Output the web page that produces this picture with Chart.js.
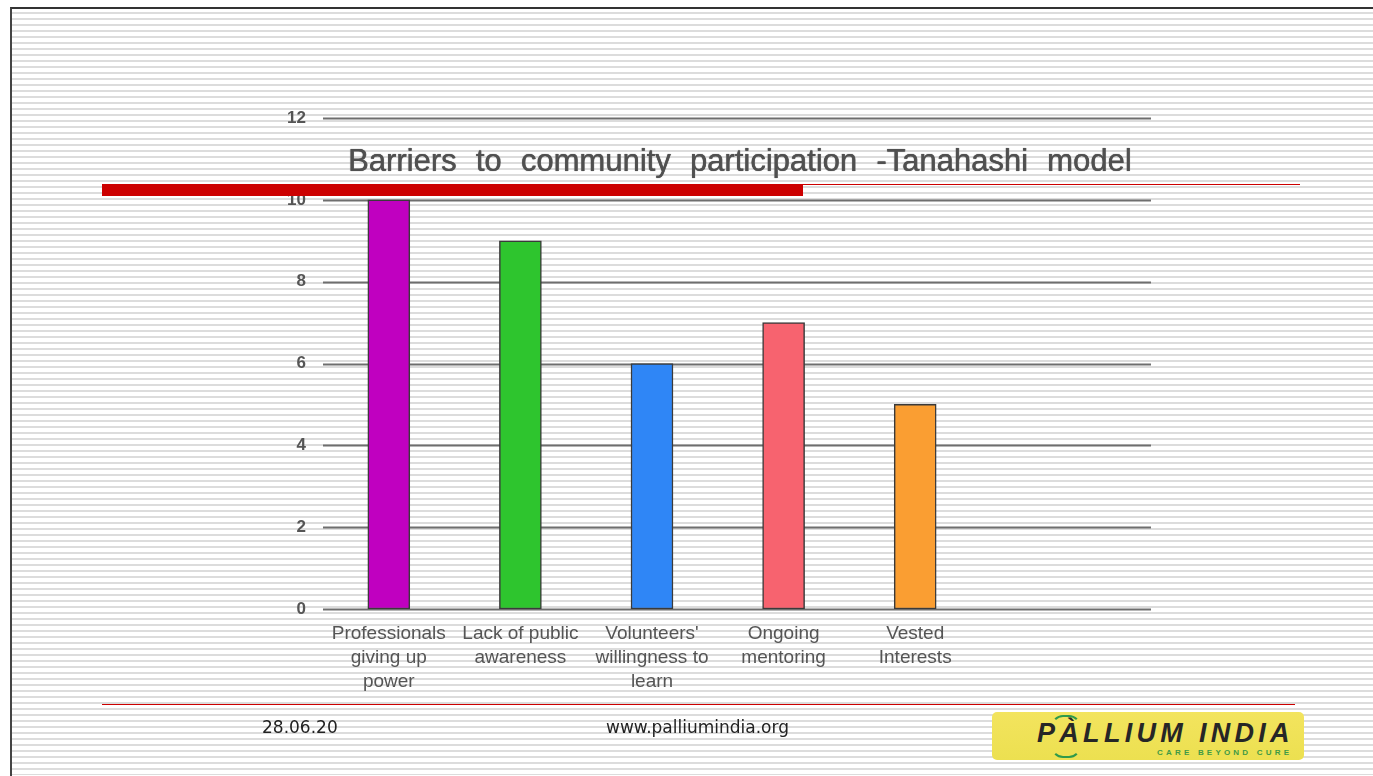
<!DOCTYPE html>
<html>
<head>
<meta charset="utf-8">
<script src="https://cdn.jsdelivr.net/npm/chart.js@4/dist/chart.umd.min.js"></script>
<style>
    html, body { margin: 0; padding: 0; }
    body {
        width: 1373px; height: 776px; position: relative; overflow: hidden;
        background: #fff;
        font-family: "Liberation Sans", Arial, sans-serif;
    }
    /* slide frame with the ruled-paper background */
    #frame {
        position: absolute; left: 10px; top: 7px; right: 0; bottom: 0;
        border-top: 2px solid #333; border-left: 2px solid #444;
        background: repeating-linear-gradient(to bottom, #fff 0px, #fff 4px, #dcdcdc 4px, #dcdcdc 6px);
        background-position: 0 -1px;
    }
    #chartBox { position: absolute; left: 0; top: 0; width: 1373px; height: 776px; }
    #title {
        position: absolute; left: 348px; top: 143px; white-space: nowrap;
        font-size: 31px; color: #505050; word-spacing: 10.6px;
        text-shadow: 0 0 1px #666, 0.4px 0 0 #666;
    }
    .red { position: absolute; background: #cc0000; }
    .foot { position: absolute; font-family: "DejaVu Sans", Verdana, sans-serif; font-size: 17px; color: #222; }
    #logo {
        position: absolute; left: 992px; top: 712px; width: 312px; height: 48px;
        border-radius: 5px; background: linear-gradient(to bottom, #f3e45e, #ece050);
    }
    #logo .name {
        position: absolute; left: 45px; top: 6px; font-size: 27px; font-weight: bold; font-style: italic;
        color: #262626; letter-spacing: 4.3px; white-space: nowrap;
    }
    #logo .tag {
        position: absolute; left: 165px; top: 36px; font-size: 8px; font-weight: bold;
        color: #3f9a45; letter-spacing: 3.2px; white-space: nowrap;
    }
    #logo .arc { position: absolute; width: 26px; height: 10px; border: 2px solid #2f9a4a; }
    #logo .arc.up { left: 59px; top: 3px; border-bottom: none; border-left-color: transparent; border-right-color: transparent; border-radius: 13px 13px 0 0; }
    #logo .arc.down { left: 59px; top: 34px; border-top: none; border-left-color: transparent; border-right-color: transparent; border-radius: 0 0 13px 13px; }
</style>
</head>
<body>
<div id="frame"></div>
<div id="chartBox"><canvas id="barChart" width="1373" height="776"></canvas></div>
<div id="title">Barriers to community participation -Tanahashi model</div>
<div class="red" style="left:102px; top:184px; width:701px; height:12px;"></div>
<div class="red" style="left:803px; top:184px; width:497px; height:1px;"></div>
<div class="red" style="left:102px; top:704px; width:1193px; height:1px;"></div>
<div class="foot" style="left:262px; top:717px;">28.06.20</div>
<div class="foot" style="left:606px; top:717px;">www.palliumindia.org</div>
<div id="logo">
    <div class="arc up"></div><div class="arc down"></div>
    <div class="name">PÀLLIUM INDIA</div>
    <div class="tag">CARE BEYOND CURE</div>
</div>
<script>
// Barriers to community participation (Tanahashi model) - single bar series

const CATEGORIES = [
    ['Professionals', 'giving up', 'power'],
    ['Lack of public', 'awareness'],
    ["Volunteers'", 'willingness to', 'learn'],
    ['Ongoing', 'mentoring'],
    ['Vested', 'Interests']
];
const SCORES = [10, 9, 6, 7, 5];
const BAR_COLORS = ['#c000c0', '#2ec52e', '#2f86f6', '#f7636f', '#fa9e32'];
const Y_TICKS = [0, 2, 4, 6, 8, 10, 12];

// the slide's grid runs well past the last category slot
const GRID_RIGHT = 1151;

const gridLines = {
    id: 'gridLines',
    beforeDatasetsDraw(chart) {
        const { ctx, chartArea, scales } = chart;
        ctx.save();
        ctx.strokeStyle = '#6e6e6e';
        ctx.lineWidth = 2;
        Y_TICKS.forEach(v => {
            const y = Math.round(scales.y.getPixelForValue(v)) + 0.5;
            ctx.beginPath();
            ctx.moveTo(chartArea.left, y);
            ctx.lineTo(GRID_RIGHT, y);
            ctx.stroke();
        });
        ctx.restore();
    }
};

new Chart(document.getElementById('barChart'), {
    type: 'bar',
    data: {
        labels: CATEGORIES,
        datasets: [{
            data: SCORES,
            backgroundColor: BAR_COLORS,
            borderColor: '#3a3a3a',
            borderWidth: 1.5,
            borderSkipped: false,
            barThickness: 42
        }]
    },
    options: {
        responsive: false,
        animation: false,
        layout: { padding: { top: 118, right: 392, bottom: 0, left: 0 } },
        plugins: { legend: { display: false }, tooltip: { enabled: false } },
        scales: {
            x: {
                grid: { display: false, drawTicks: false },
                border: { display: false },
                afterFit: s => { s.height = 167; },
                ticks: {
                    padding: 13, maxRotation: 0, autoSkip: false,
                    color: '#555', font: { family: '"Liberation Sans", Arial, sans-serif', size: 19, lineHeight: 1.25 }
                }
            },
            y: {
                min: 0, max: 12,
                grid: { display: false, drawTicks: false },
                border: { display: false },
                afterFit: s => { s.width = 323; },
                afterBuildTicks: s => { s.ticks = Y_TICKS.map(v => ({ value: v })); },
                ticks: {
                    padding: 17,
                    color: '#555', font: { family: '"Liberation Sans", Arial, sans-serif', size: 17, weight: 'bold' }
                }
            }
        }
    },
    plugins: [gridLines]
});
</script>
</body>
</html>
